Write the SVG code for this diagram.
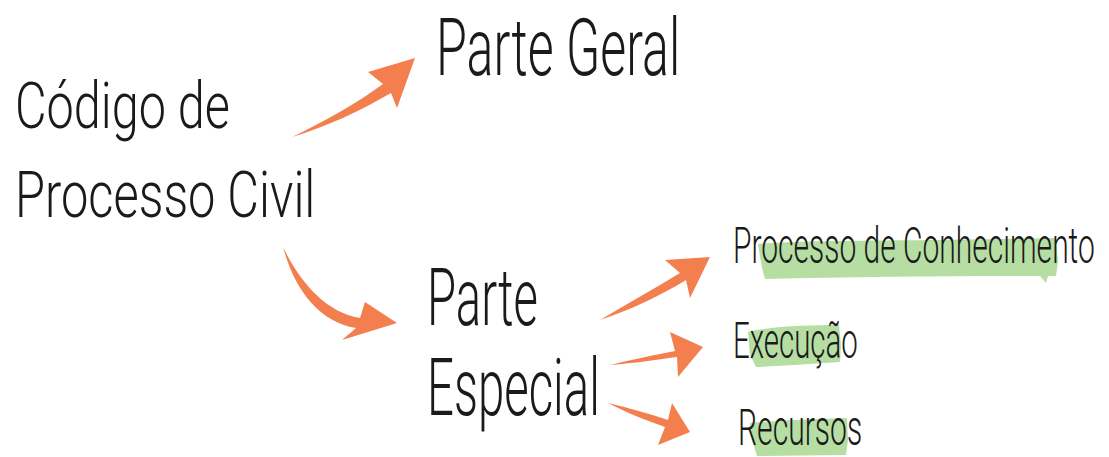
<svg xmlns="http://www.w3.org/2000/svg" width="1109" height="457" viewBox="0 0 1109 457">
<style>
.t{font-family:Roboto,"Liberation Sans",sans-serif;font-weight:300;fill:#1a1a1a}
.big{font-size:64px}
.mid{font-size:80px}
.sm{font-size:50px}
.hl{fill:#b6dea3}
.ar{fill:#f37f4f}
</style>
<rect width="1109" height="457" fill="#ffffff"/>
<g id="highlights">
<path class="hl" d="M758,244 C800,240 900,241 1000,239 L1056,238 L1058,262 L1056,276 L1048,276 L1046,283 L1040,276 C950,276 850,277 765,279 L762,268 Z"/>
<path class="hl" d="M748,332 C770,326 810,325 839,325 L841,345 L840,362 C810,364 780,366 756,367 L750,355 Z"/>
<path class="hl" d="M750,423 C780,420 815,419 847,418 L848,440 L846,455 C815,455 785,456 757,456 L752,440 Z"/>
</g>
<g id="connectors">
<path class="ar" d="M292,137 C325,121 356,104 383,84 L368,72 L415,58 L397,108 L391,93 C360,111 328,126 292,137 Z"/>
<path class="ar" d="M283,247 C300,282 325,312 360,318 L365,302 L397,323 L342,340 L356,328 C318,322 294,288 283,247 Z"/>
<path class="ar" d="M600,320 C625,305 652,290 680,273 L665,260 L710,257 L690,298 L686,280 C660,296 630,310 600,320 Z"/>
<path class="ar" d="M610,365 C635,359 655,355 675,351 L670,332 L703,347 L678,377 L677,357 C655,360 635,363 610,365 Z"/>
<path class="ar" d="M608,403 C630,408 650,414 668,420 L672,403 L690,432 L658,445 L665,427 C645,420 625,412 608,403 Z"/>
</g>
<g id="node-cpc">
<text class="t big" transform="translate(15,128) scale(0.7,1)" textLength="307" lengthAdjust="spacingAndGlyphs">Código de</text>
<text class="t big" transform="translate(15,217) scale(0.7,1)" textLength="429" lengthAdjust="spacingAndGlyphs">Processo Civil</text>
</g>
<g id="node-parte-geral">
<text class="t mid" transform="translate(436,75) scale(0.6,1)" textLength="407" lengthAdjust="spacingAndGlyphs">Parte Geral</text>
</g>
<g id="node-parte-especial">
<text class="t mid" transform="translate(427,325) scale(0.6,1)" textLength="185" lengthAdjust="spacingAndGlyphs">Parte</text>
<text class="t mid" transform="translate(427,415) scale(0.6,1)" textLength="288" lengthAdjust="spacingAndGlyphs">Especial</text>
</g>
<g id="node-conhecimento">
<text class="t sm" transform="translate(733,263) scale(0.6,1)" textLength="603" lengthAdjust="spacingAndGlyphs">Processo de Conhecimento</text>
</g>
<g id="node-execucao">
<text class="t sm" transform="translate(733,358) scale(0.6,1)" textLength="208" lengthAdjust="spacingAndGlyphs">Execução</text>
</g>
<g id="node-recursos">
<text class="t sm" transform="translate(738,445) scale(0.6,1)" textLength="207" lengthAdjust="spacingAndGlyphs">Recursos</text>
</g>
</svg>
